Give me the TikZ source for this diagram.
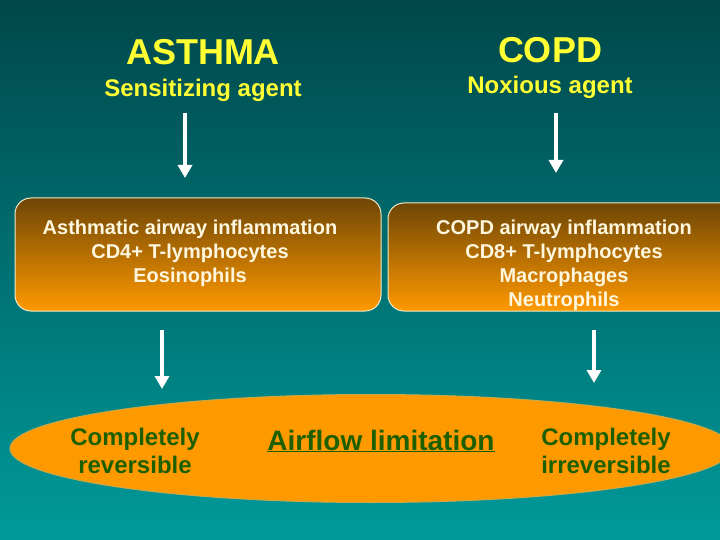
\documentclass[tikz,border=0pt]{standalone}
\usepackage{fontspec}
\setmainfont{Liberation Sans}
\usetikzlibrary{arrows.meta, positioning, shapes.geometric}
\definecolor{bgtop}{HTML}{00474A}
\definecolor{bgbot}{HTML}{009A9A}
\definecolor{headyellow}{HTML}{FFFF33}
\definecolor{boxtop}{HTML}{6E4605}
\definecolor{boxmid}{HTML}{D88505}
\definecolor{boxbot}{HTML}{FF9900}
\definecolor{boxedge}{HTML}{F0EBC8}
\definecolor{boxtext}{HTML}{FFF6DE}
\definecolor{lensfill}{HTML}{FF9900}
\definecolor{lensedge}{HTML}{C8A848}
\definecolor{lenstext}{HTML}{1E5F00}

\begin{document}
\begin{tikzpicture}[x=1pt, y=-1pt,
  head/.style={headyellow, font=\bfseries\fontsize{36}{40}\selectfont, inner sep=0, anchor=base},
  agent/.style={headyellow, font=\bfseries\fontsize{24}{28}\selectfont, inner sep=0, anchor=base},
  infobox/.style={draw=boxedge, line width=1pt, rounded corners=16pt,
    top color=boxtop, middle color=boxmid, bottom color=boxbot},
  celltext/.style={boxtext, align=center, font=\bfseries\fontsize{20}{24}\selectfont, inner sep=0},
  outcome/.style={lenstext, align=center, font=\bfseries\fontsize{24}{28}\selectfont, inner sep=0},
  flow/.style={white, line width=4.5pt, -{Triangle[width=14pt, length=13pt]}}]
  \useasboundingbox (0,0) rectangle (720,540);
  \clip (0,0) rectangle (720,540);
  \shade[top color=bgtop, bottom color=bgbot] (0,0) rectangle (720,540);

  % Causes
  \node[head] (asthma) at (203,65) {ASTHMA};
  \node[agent] (sensitizing) at (203,97) {Sensitizing agent};
  \node[head] (copd) at (550,63) {COPD};
  \node[agent] (noxious) at (550,94) {Noxious agent};

  % Inflammation
  \node[infobox, minimum width=366, minimum height=113] (asthma-box) at (198,254.5) {};
  \node[celltext] (asthma-cells) at (190,253) {Asthmatic airway inflammation\\CD4+ T-lymphocytes\\Eosinophils};
  \node[infobox, minimum width=352, minimum height=108] (copd-box) at (564,257) {};
  \node[celltext] (copd-cells) at (564,265) {COPD airway inflammation\\CD8+ T-lymphocytes\\Macrophages\\Neutrophils};

  % Outcome
  \node[ellipse, draw=lensedge, line width=1pt, fill=lensfill, inner sep=0,
    minimum width=722, minimum height=108] (airflow-lens) at (371,448.5) {};
  \node[outcome] (reversible) at (135,451) {Completely\\reversible};
  \node[outcome, font=\bfseries\fontsize{28}{32}\selectfont, anchor=base] (airflow) at (381,450)
    {\underline{Airflow limitation}};
  \node[outcome] (irreversible) at (606,451) {Completely\\irreversible};

  \coordinate (asthma-from) at (185,113);
  \coordinate (asthma-to) at (185,178);
  \coordinate (copd-from) at (556,113);
  \coordinate (copd-to) at (556,173);
  \coordinate (reversible-from) at (162,330);
  \coordinate (reversible-to) at (162,389);
  \coordinate (irreversible-from) at (594,330);
  \coordinate (irreversible-to) at (594,383);
  \foreach \a in {asthma,copd,reversible,irreversible}
    \draw[flow] (\a-from) -- (\a-to);
\end{tikzpicture}
\end{document}
